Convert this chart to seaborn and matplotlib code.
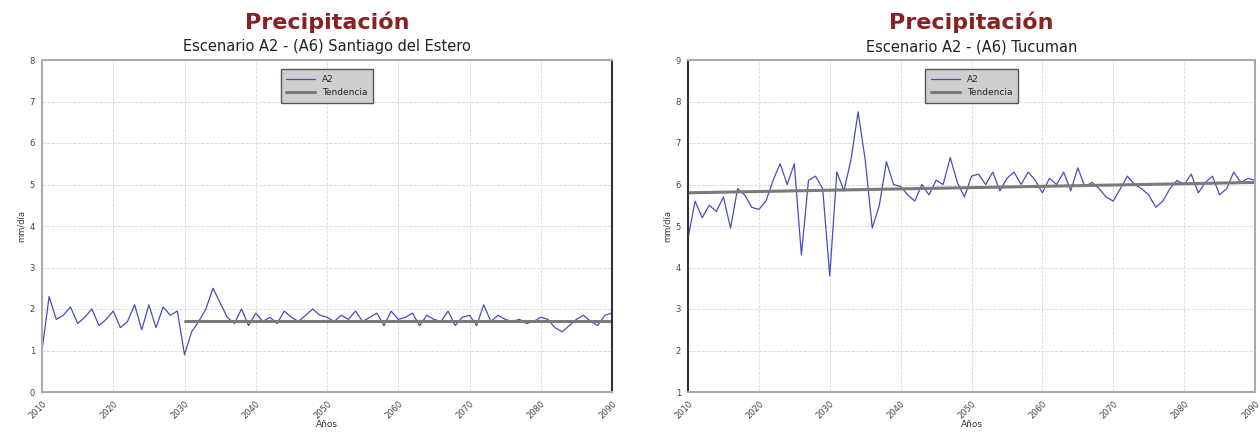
import numpy as np
import pandas as pd
import matplotlib
matplotlib.use("Agg")
import matplotlib.pyplot as plt
import seaborn as sns

sns.set_theme(style="white")
plt.rcParams['font.family'] = ['DejaVu Sans']

years = list(range(2010, 2091))
xticks = [2010, 2020, 2030, 2040, 2050, 2060, 2070, 2080, 2090]

sde_vals = [1.0, 2.3, 1.75, 1.85, 2.05, 1.65, 1.8, 2.0, 1.6, 1.75,
            1.95, 1.55, 1.7, 2.1, 1.5, 2.1, 1.55, 2.05, 1.85, 1.95,
            0.9, 1.45, 1.7, 2.0, 2.5, 2.15, 1.8, 1.65, 2.0, 1.6,
            1.9, 1.7, 1.8, 1.65, 1.95, 1.8, 1.7, 1.85, 2.0, 1.85,
            1.8, 1.7, 1.85, 1.75, 1.95, 1.7, 1.8, 1.9, 1.6, 1.95,
            1.75, 1.8, 1.9, 1.6, 1.85, 1.75, 1.7, 1.95, 1.6, 1.8,
            1.85, 1.6, 2.1, 1.7, 1.85, 1.75, 1.7, 1.75, 1.65, 1.7,
            1.8, 1.75, 1.55, 1.45, 1.6, 1.75, 1.85, 1.7, 1.6, 1.85, 1.9]
sde_trend_years = [2030, 2090]
sde_trend_vals = [1.72, 1.72]

tuc_vals = [4.7,
            5.6, 5.2, 5.5, 5.35, 5.7, 4.95, 5.9, 5.75, 5.45,
            5.4, 5.6, 6.1, 6.5, 6.0, 6.5, 4.3, 6.1, 6.2, 5.9,
            3.8, 6.3, 5.85, 6.6, 7.75, 6.6, 4.95, 5.5, 6.55, 6.0,
            5.95, 5.75, 5.6, 6.0, 5.75, 6.1, 6.0, 6.65, 6.05, 5.7,
            6.2, 6.25, 6.0, 6.3, 5.85, 6.15, 6.3, 6.0, 6.3, 6.1,
            5.8, 6.15, 6.0, 6.3, 5.85, 6.4, 5.95, 6.05, 5.9, 5.7,
            5.6, 5.9, 6.2, 6.0, 5.9, 5.75, 5.45, 5.6, 5.9, 6.1,
            6.0, 6.25, 5.8, 6.05, 6.2, 5.75, 5.9, 6.3, 6.05, 6.15, 6.1]
tuc_trend_years = [2010, 2090]
tuc_trend_vals = [5.8, 6.05]

subtitles = ["Escenario A2 - (A6) Santiago del Estero", "Escenario A2 - (A6) Tucuman"]
ylims = [(0, 8), (1, 9)]

fig = plt.figure(figsize=(12.6, 4.32), dpi=100)
ax1 = fig.add_axes([42/1260, 1-392/432, 570/1260, 332/432])
ax2 = fig.add_axes([688/1260, 1-392/432, 567/1260, 332/432])

panels = [(ax1, sde_vals, sde_trend_years, sde_trend_vals),
          (ax2, tuc_vals, tuc_trend_years, tuc_trend_vals)]

for i, (ax, vals, ty, tv) in enumerate(panels):
    df = pd.DataFrame({"Año": years, "valor": vals})
    dft = pd.DataFrame({"Año": ty, "valor": tv})
    sns.lineplot(data=df, x="Año", y="valor", ax=ax, color="#4b4bc0", lw=0.9, label="A2")
    sns.lineplot(data=dft, x="Año", y="valor", ax=ax, color="#7a7a7a", lw=2.2, label="Tendencia")
    ax.set_xlim(2010, 2090)
    ax.set_ylim(*ylims[i])
    ax.set_xticks(xticks)
    ax.set_xticklabels([str(t) for t in xticks], rotation=45, fontsize=6,
                       color="#444444", ha="right", rotation_mode="anchor")
    ax.set_yticks(range(ylims[i][0], ylims[i][1] + 1))
    ax.tick_params(axis='y', labelsize=6, colors="#444444", length=3, pad=2)
    ax.tick_params(axis='x', length=3, pad=2)
    ax.grid(True, color="#d8d8d8", ls="--", lw=0.6)
    ax.set_xlabel("Años", fontsize=6.5, color="#333333", labelpad=0)
    ax.set_ylabel("mm/día", fontsize=6, color="#333333", labelpad=3)
    for s in ax.spines.values():
        s.set_color("#aaaaaa")
        s.set_linewidth(1.5)
    leg = ax.legend(loc="upper center", bbox_to_anchor=(0.5, 0.985), fontsize=6.5,
                    frameon=True, fancybox=False, handlelength=3.2, borderpad=0.6)
    leg.get_frame().set_facecolor("#cfcfcf")
    leg.get_frame().set_edgecolor("#555555")
    leg.get_frame().set_alpha(1)
    pos = ax.get_position()
    cx = pos.x0 + pos.width / 2
    fig.text(cx, 1 - 22/432, "Precipitación", ha="center", va="center",
             fontsize=16, fontweight="bold", color="#8b2020")
    fig.text(cx, 1 - 47/432, subtitles[i], ha="center", va="center",
             fontsize=10.5, color="#222222")

ax1.spines["right"].set_color("#333333")
ax2.spines["left"].set_color("#333333")

fig.savefig("out.png", dpi=100)
